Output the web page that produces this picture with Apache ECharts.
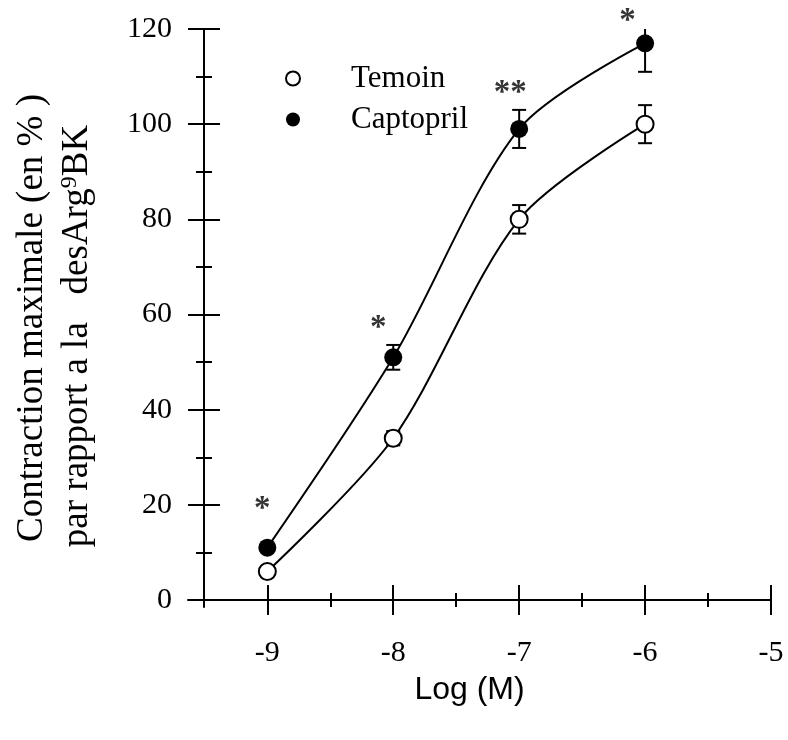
<!DOCTYPE html>
<html>
<head>
<meta charset="utf-8">
<script src="https://cdn.jsdelivr.net/npm/echarts@6/dist/echarts.min.js"></script>
<style>
  html, body { margin: 0; padding: 0; background: #fff; }
  #chart { width: 788px; height: 740px; }
</style>
</head>
<body>
<div id="chart"></div>
<script>
// concentrations (log M)
const logDose = [-9, -8, -7, -6];
// contraction in % of desArg9BK max
const temoin = [6, 34, 80, 100];
const temoinErr = [0, 1.5, 3, 4];
const captopril = [11, 51, 99, 117];
const captoprilErr = [0, 2.6, 4, 6];

// significance marks
const starX = [-9.04, -8.12, -7.07, -6.14];
const starY = [19, 57, 106.5, 121.5];
const starText = ["*", "*", "**", "*"];

// ticks
const xTicks = [-9, -8, -7, -6, -5];
const xMinorTicks = [-8.5, -7.5, -6.5, -5.5];
const yTicks = [0, 20, 40, 60, 80, 100, 120];
const yMinorTicks = [10, 30, 50, 70, 90, 110];

const xMin = -9.63, xMax = -5;
const yMin = -1.47, yMax = 120;

const serif = "Liberation Serif";
const black = "#000";

function pairs(xs, ys) {
  return xs.map((x, i) => [x, ys[i]]);
}
function errRows(xs, ys, es) {
  return xs.map((x, i) => [x, ys[i] - es[i], ys[i] + es[i]]);
}

// tick-only axes stacked on the main ones so the ticks cross the axis line
function tickAxis(kind, offset, values, len) {
  const ax = {
    type: "value",
    position: kind === "x" ? "bottom" : "left",
    offset: offset,
    axisLine: { show: false, onZero: false },
    axisTick: { show: true, customValues: values, length: len, lineStyle: { color: black, width: 2 } },
    axisLabel: { show: false },
    splitLine: { show: false },
  };
  if (kind === "x") { ax.min = xMin; ax.max = xMax; } else { ax.min = yMin; ax.max = yMax; }
  return ax;
}

function renderErr(params, api) {
  const x = api.value(0);
  const lo = api.coord([x, api.value(1)]);
  const hi = api.coord([x, api.value(2)]);
  const w = 7;
  const st = { stroke: black, lineWidth: 2 };
  return {
    type: "group",
    children: [
      { type: "line", shape: { x1: lo[0], y1: lo[1], x2: hi[0], y2: hi[1] }, style: st },
      { type: "line", shape: { x1: hi[0] - w, y1: hi[1], x2: hi[0] + w, y2: hi[1] }, style: st },
      { type: "line", shape: { x1: lo[0] - w, y1: lo[1], x2: lo[0] + w, y2: lo[1] }, style: st },
    ],
  };
}

const chart = echarts.init(document.getElementById("chart"));
chart.setOption({
  animation: false,
  backgroundColor: "#fff",
  grid: { left: 188, right: 17, top: 29, bottom: 133, containLabel: false },
  legend: {
    data: ["Temoin", "Captopril"],
    orient: "vertical",
    left: 280,
    top: 58,
    itemWidth: 14,
    itemHeight: 14,
    itemGap: 10,
    textStyle: { fontFamily: serif, fontSize: 31, color: black, lineHeight: 31, padding: [0, 0, 0, 46] },
  },
  xAxis: [
    {
      type: "value",
      min: xMin,
      max: xMax,
      position: "bottom",
      offset: -7,
      axisLine: { onZero: false, lineStyle: { color: black, width: 2 } },
      axisTick: { show: false },
      splitLine: { show: false },
      axisLabel: { customValues: xTicks, margin: 38, fontFamily: serif, fontSize: 30, color: black },
      name: "Log (M)",
      nameLocation: "middle",
      nameGap: 74,
      nameTextStyle: { fontFamily: "Liberation Sans", fontSize: 32, color: black, padding: [0, 20, 0, 0] },
    },
    tickAxis("x", -22, xTicks, 30),
    tickAxis("x", -14, xMinorTicks, 14),
  ],
  yAxis: [
    {
      type: "value",
      min: yMin,
      max: yMax,
      position: "left",
      offset: -16,
      axisLine: { onZero: false, lineStyle: { color: black, width: 2 } },
      axisTick: { show: false },
      splitLine: { show: false },
      axisLabel: { customValues: yTicks, margin: 32, fontFamily: serif, fontSize: 30, color: black },
      name: "{a|Contraction maximale (en % )}\n{a|par rapport a la   desArg}{s|9}{a|BK}{g|}",
      nameLocation: "middle",
      nameGap: 104,
      nameTextStyle: {
        color: black,
        rich: {
          a: { fontFamily: serif, fontSize: 37, lineHeight: 45, color: black },
          s: { fontFamily: serif, fontSize: 24, lineHeight: 45, color: black, verticalAlign: "top", padding: [3, 0, 0, 0] },
          g: { width: 36, lineHeight: 45 },
        },
      },
    },
    tickAxis("y", -32, yTicks, 32),
    tickAxis("y", -24, yMinorTicks, 16),
  ],
  series: [
    {
      type: "line",
      data: pairs(logDose, temoin),
      smooth: 0.3,
      symbol: "none",
      lineStyle: { color: black, width: 2 },
      z: 2,
    },
    {
      type: "line",
      data: pairs(logDose, captopril),
      smooth: 0.3,
      symbol: "none",
      lineStyle: { color: black, width: 2 },
      z: 2,
    },
    {
      type: "custom",
      data: errRows(logDose, temoin, temoinErr),
      renderItem: renderErr,
      clip: true,
      z: 3,
    },
    {
      type: "custom",
      data: errRows(logDose, captopril, captoprilErr),
      renderItem: renderErr,
      clip: true,
      z: 3,
    },
    {
      name: "Temoin",
      type: "scatter",
      data: pairs(logDose, temoin),
      symbol: "circle",
      symbolSize: 17,
      itemStyle: { color: "#fff", borderColor: black, borderWidth: 2, opacity: 1 },
      z: 5,
    },
    {
      name: "Captopril",
      type: "scatter",
      data: pairs(logDose, captopril),
      symbol: "circle",
      symbolSize: 18,
      itemStyle: { color: black, opacity: 1 },
      z: 5,
    },
    {
      type: "scatter",
      data: starX.map((x, i) => ({ value: [x, starY[i]], label: { formatter: starText[i] } })),
      symbolSize: 0,
      clip: false,
      silent: true,
      label: {
        show: true,
        position: "inside",
        fontFamily: serif,
        fontWeight: "bold",
        fontSize: 33,
        color: black,
      },
      z: 6,
    },
  ],
});
</script>
</body>
</html>
